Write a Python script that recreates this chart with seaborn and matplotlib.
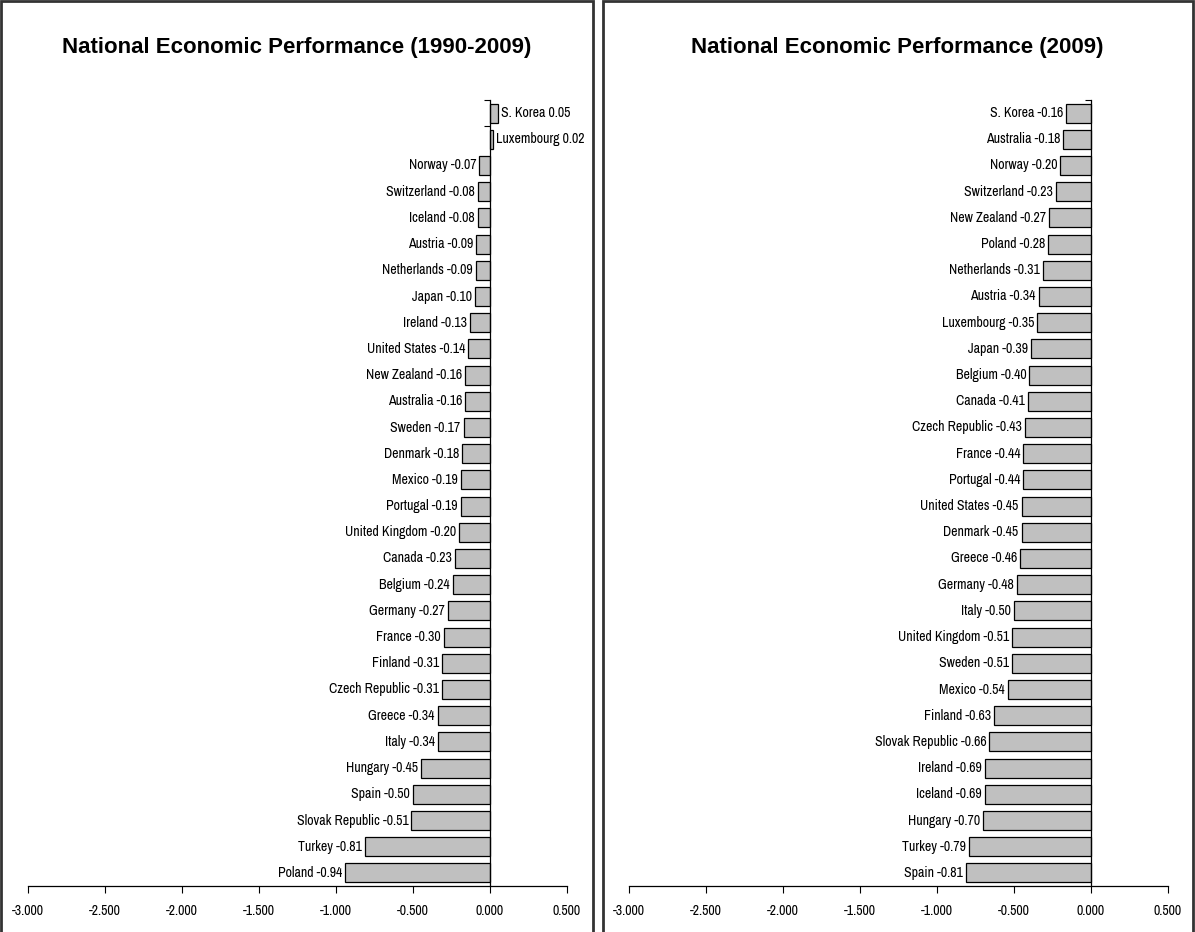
import numpy as np
import pandas as pd
import matplotlib
matplotlib.use("Agg")
import matplotlib.pyplot as plt
import seaborn as sns
from matplotlib.patches import Rectangle
import warnings
warnings.filterwarnings("ignore")

countries_long = ['S. Korea', 'Luxembourg', 'Norway', 'Switzerland', 'Iceland', 'Austria',
                  'Netherlands', 'Japan', 'Ireland', 'United States', 'New Zealand', 'Australia',
                  'Sweden', 'Denmark', 'Mexico', 'Portugal', 'United Kingdom', 'Canada',
                  'Belgium', 'Germany', 'France', 'Finland', 'Czech Republic', 'Greece',
                  'Italy', 'Hungary', 'Spain', 'Slovak Republic', 'Turkey', 'Poland']
values_long = [0.05, 0.02, -0.07, -0.08, -0.08, -0.09, -0.09, -0.10, -0.13, -0.14, -0.16, -0.16,
               -0.17, -0.18, -0.19, -0.19, -0.20, -0.23, -0.24, -0.27, -0.30, -0.31, -0.31, -0.34,
               -0.34, -0.45, -0.50, -0.51, -0.81, -0.94]

countries_2009 = ['S. Korea', 'Australia', 'Norway', 'Switzerland', 'New Zealand', 'Poland',
                  'Netherlands', 'Austria', 'Luxembourg', 'Japan', 'Belgium', 'Canada',
                  'Czech Republic', 'France', 'Portugal', 'United States', 'Denmark', 'Greece',
                  'Germany', 'Italy', 'United Kingdom', 'Sweden', 'Mexico', 'Finland',
                  'Slovak Republic', 'Ireland', 'Iceland', 'Hungary', 'Turkey', 'Spain']
values_2009 = [-0.16, -0.18, -0.20, -0.23, -0.27, -0.28, -0.31, -0.34, -0.35, -0.39, -0.40, -0.41,
               -0.43, -0.44, -0.44, -0.45, -0.45, -0.46, -0.48, -0.50, -0.51, -0.51, -0.54, -0.63,
               -0.66, -0.69, -0.69, -0.70, -0.79, -0.81]

x_ticks = [-3.0, -2.5, -2.0, -1.5, -1.0, -0.5, 0.0, 0.5]

sns.set_style("white")
plt.rcParams['font.family'] = ['Liberation Sans Narrow', 'Arial Narrow', 'Archivo Narrow',
                               'PT Sans Narrow', 'Roboto Condensed', 'Liberation Sans',
                               'DejaVu Sans']
plt.rcParams['text.color'] = 'black'
plt.rcParams['xtick.color'] = 'black'
plt.rcParams['ytick.color'] = 'black'
plt.rcParams['axes.labelcolor'] = 'black'

W, H = 1195, 932
fig = plt.figure(figsize=(W / 100, H / 100), dpi=100)

# panel borders
for x0, x1 in [(1, 593), (603, 1193)]:
    fig.patches.append(Rectangle((x0 / W, -0.01), (x1 - x0) / W, 1.0 - 0.5 / H + 0.01,
                                 transform=fig.transFigure, fill=False,
                                 edgecolor='#333333', linewidth=2))


def draw_panel(left_px, names, vals, title, title_x):
    ax = fig.add_axes([left_px / W, (H - 886) / H, 539 / W, 786 / H])
    df = pd.DataFrame({'country': names, 'value': vals})
    sns.barplot(data=df, x='value', y='country', orient='h', color='#C0C0C0',
                edgecolor='black', linewidth=0.9, width=0.72, saturation=1, ax=ax)
    ax.set_xlim(-3.0, 0.5)
    ax.set_ylim(len(names) - 0.5, -0.5)
    ax.set_xticks(x_ticks)
    ax.set_xticklabels([f"{t:.3f}" for t in x_ticks], fontsize=10)
    ax.set_xlabel('')
    ax.set_ylabel('')
    ax.set_yticks([])
    # category tick marks only show where no negative bar hides them
    edges = [-0.5]
    for k in range(len(vals) - 1):
        if vals[k] >= 0 and vals[k + 1] >= 0:
            edges.append(k + 0.5)
    ax.set_yticks(edges, minor=True)
    ax.tick_params(axis='y', which='minor', length=4, width=0.8, direction='out', left=True)
    ax.tick_params(axis='x', length=5, width=0.8, direction='out', bottom=True, pad=8)
    for s in ['top', 'right']:
        ax.spines[s].set_visible(False)
    ax.spines['left'].set_position(('data', 0))
    for s in ['left', 'bottom']:
        ax.spines[s].set_linewidth(0.9)
        ax.spines[s].set_color('black')
    for i, (n, v) in enumerate(zip(names, vals)):
        if v >= 0:
            ax.text(v + 0.02, i, f"{n} {v:.2f}", ha='left', va='center', fontsize=10)
        else:
            ax.text(v - 0.02, i, f"{n} {v:.2f}", ha='right', va='center', fontsize=10)
    fig.text(title_x / W, 1 - 48 / H, title, ha='center', va='center',
             fontsize=16, fontweight='bold', family=['Liberation Sans', 'DejaVu Sans'])
    return ax


draw_panel(28, countries_long, values_long, 'National Economic Performance (1990-2009)', 297)
draw_panel(629, countries_2009, values_2009, 'National Economic Performance (2009)', 897)

plt.savefig("out.png", dpi=100)
